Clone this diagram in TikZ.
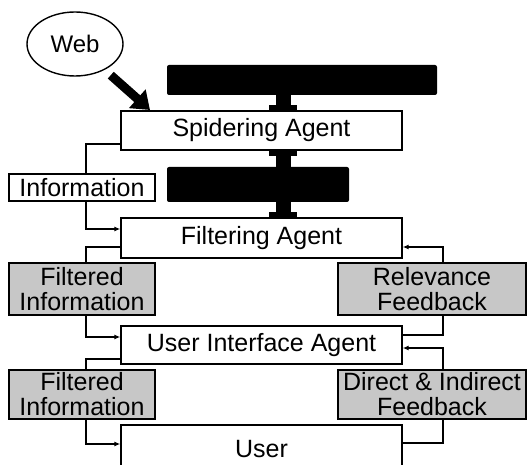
\documentclass[tikz,border=0pt]{standalone}
\usepackage{fontspec}
\setmainfont{Liberation Sans}
\usetikzlibrary{arrows.meta,shapes.geometric}
\begin{document}
\begin{tikzpicture}[x=1pt,y=1pt,
  agent/.style={draw, line width=1.4pt, fill=white, minimum width=281pt, inner sep=0pt,
    font=\fontsize{25}{25}\selectfont},
  flow/.style={draw, line width=1.4pt, inner sep=0pt, align=center,
    font=\fontsize{25}{25}\selectfont},
  shaded/.style={flow, fill=black!22},
  darkbox/.style={fill=black, rounded corners=2pt, inner sep=0pt},
  link/.style={line width=1.4pt},
  linkto/.style={link, -{Latex[length=6pt,width=5pt]}},
  ibeam/.style={line width=15pt, -{Rectangle[length=5pt,width=28pt]}},
  webarrow/.style={line width=9pt, -{Triangle[length=17pt,width=24pt]}}
]
\useasboundingbox (0,0) rectangle (527,464);
\clip (0,0) rectangle (527,464);

% sources and agents
\node[ellipse, draw, line width=1.4pt, minimum width=96pt, minimum height=64pt,
  inner sep=0pt, font=\fontsize{24}{24}\selectfont] (web) at (75,420) {Web};
\node[darkbox, minimum width=270pt, minimum height=30pt] (fetch) at (302,384) {};
\node[agent, minimum height=39pt] (spider) at (261.5,333.5) {Spidering Agent};
\node[darkbox, minimum width=182pt, minimum height=35pt] (rules) at (258,279.5) {};
\node[flow, fill=white, minimum width=146pt, minimum height=27pt] (info) at (82,276.5) {Information};
\node[agent, minimum height=40pt] (filter) at (261.5,226) {Filtering Agent};
\node[shaded, minimum width=146pt, minimum height=52pt] (fi1) at (82,175) {Filtered\\Information};
\node[shaded, minimum width=188pt, minimum height=52pt] (rf) at (432,175) {Relevance\\Feedback};
\node[agent, minimum height=38pt] (ui) at (261.5,119) {User Interface Agent};
\node[shaded, minimum width=146pt, minimum height=49pt] (fi2) at (82,69.5) {Filtered\\Information};
\node[shaded, minimum width=188pt, minimum height=49pt] (di) at (432,69.5) {Direct \& Indirect\\Feedback};
\node[agent, minimum height=49pt] (user) at (261.5,14.5) {User};

% thick links to the dark boxes
\coordinate (axis) at (283,0);
\draw[ibeam] (fetch.south -| axis) -- (spider.north -| axis);
\draw[ibeam] (rules.north -| axis) -- (spider.south -| axis);
\draw[ibeam] (rules.south -| axis) -- (filter.north -| axis);

% web feeding the spider
\coordinate (webtip) at (150,354);
\draw[webarrow, shorten <=8pt] (web.-41) -- (webtip);

% information flowing down the left side
\draw[link] ([yshift=-13.5pt]spider.west) -| ([xshift=4pt]info.north);
\draw[linkto] ([xshift=4pt]info.south) |- ([yshift=9pt]filter.west);
\draw[link] ([yshift=-9pt]filter.west) -| ([xshift=4pt]fi1.north);
\draw[linkto] ([xshift=4pt]fi1.south) |- ([yshift=8pt]ui.west);
\draw[link] ([yshift=-14pt]ui.west) -| ([xshift=4pt]fi2.north);
\draw[linkto] ([xshift=4pt]fi2.south) |- ([yshift=5.5pt]user.west);

% feedback flowing up the right side
\draw[link] ([yshift=6.5pt]user.east) -| ([xshift=11pt]di.south);
\draw[linkto] ([xshift=11pt]di.north) |- ([yshift=-3pt]ui.east);
\draw[link] ([yshift=10pt]ui.east) -| ([xshift=11pt]rf.south);
\draw[linkto] ([xshift=11pt]rf.north) |- ([yshift=-9pt]filter.east);
\end{tikzpicture}
\end{document}
